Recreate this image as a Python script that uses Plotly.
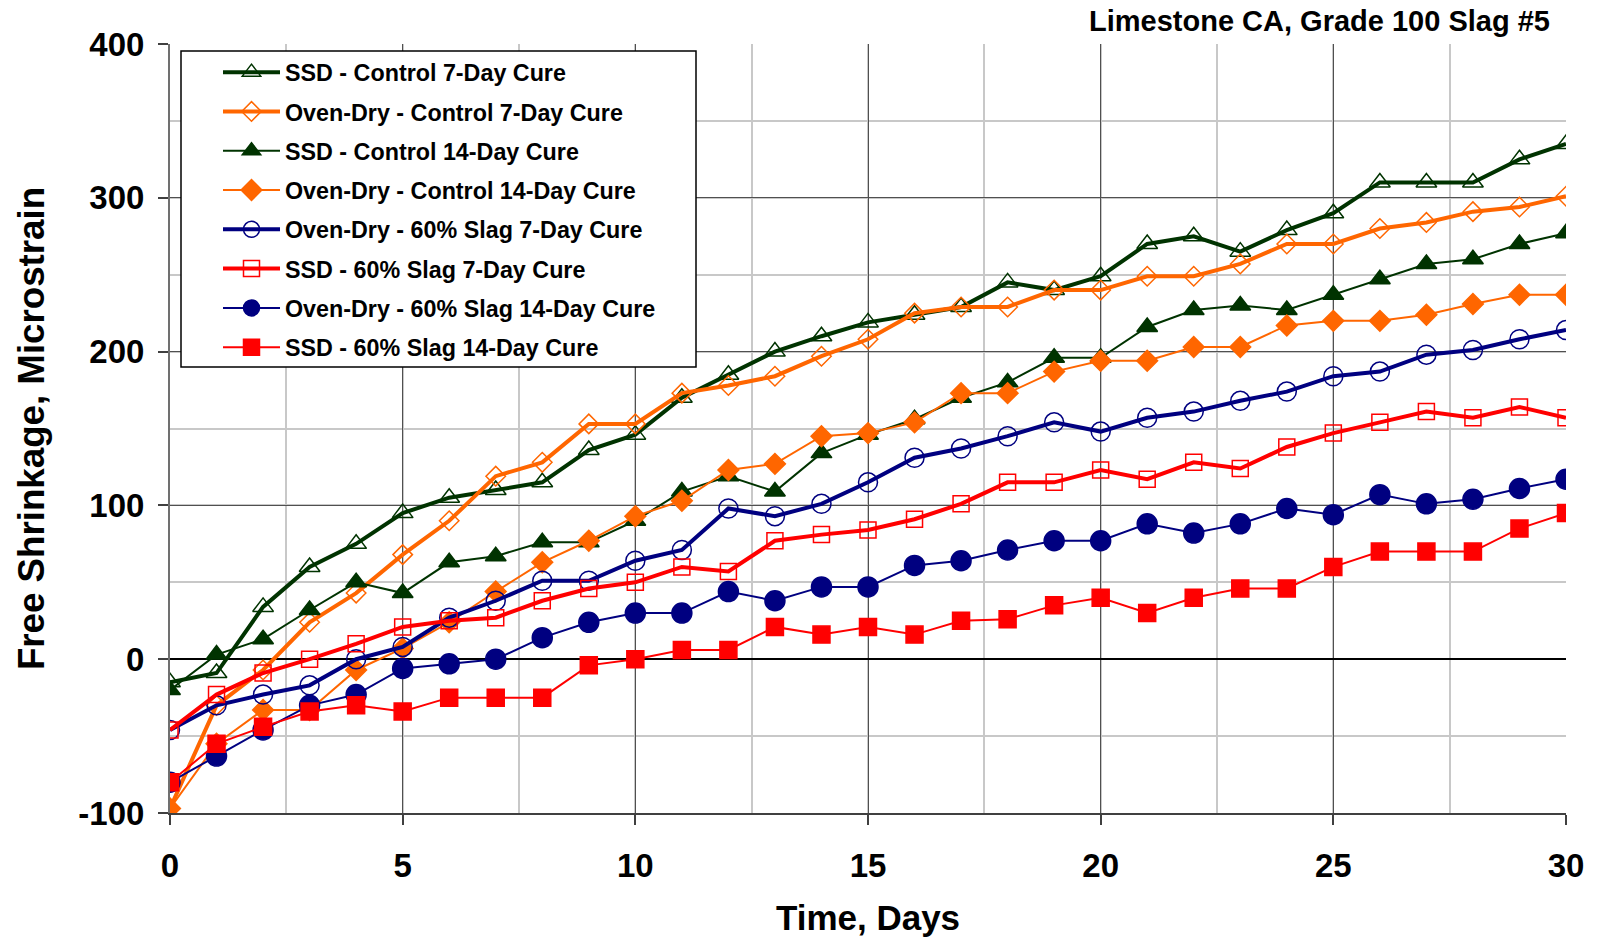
import plotly.graph_objects as go

# Time in days
days = list(range(0, 31))

# Free shrinkage, microstrain
ssd_control_7 = [-15, -9, 34, 60, 75, 95, 105, 110, 115, 136, 146, 170, 185, 200, 210, 219,
                 224, 229, 245, 240, 249, 270, 275, 265, 279, 290, 310, 310, 310, 325, 335]
od_control_7 = [-97, -30, -7, 24, 43, 68, 90, 119, 128, 153, 153, 173, 178, 184, 197, 208,
                225, 229, 229, 240, 240, 249, 249, 257, 270, 270, 280, 284, 291, 294, 301]
ssd_control_14 = [-20, 3, 13, 32, 50, 43, 63, 67, 76, 76, 90, 109, 119, 109, 134, 146,
                  156, 170, 180, 196, 196, 216, 227, 230, 227, 237, 247, 257, 260, 270, 277]
od_control_14 = [-97, -55, -33, -33, -7, 7, 24, 44, 63, 77, 93, 103, 123, 127, 145, 147,
                 154, 173, 173, 187, 194, 194, 203, 203, 217, 220, 220, 224, 231, 237, 237]
od_slag_7 = [-46, -30, -23, -17, 0, 8, 27, 38, 51, 51, 64, 71, 98, 93, 101, 115,
             131, 137, 145, 154, 148, 157, 161, 168, 174, 184, 187, 198, 201, 208, 214]
ssd_slag_7 = [-46, -23, -9, 0, 10, 21, 25, 27, 38, 46, 50, 60, 57, 77, 81, 84,
              91, 101, 115, 115, 123, 117, 128, 124, 138, 147, 154, 161, 157, 164, 157]
od_slag_14 = [-80, -63, -46, -30, -23, -6, -3, 0, 14, 24, 30, 30, 44, 38, 47, 47,
              61, 64, 71, 77, 77, 88, 82, 88, 98, 94, 107, 101, 104, 111, 117]
ssd_slag_14 = [-80, -55, -44, -34, -30, -34, -25, -25, -25, -4, 0, 6, 6, 21, 16, 21,
               16, 25, 26, 35, 40, 30, 40, 46, 46, 60, 70, 70, 70, 85, 95]

# axis ticks (plain hyphen for the negative label, like the original)
y_ticks = [-100, 0, 100, 200, 300, 400]
y_labels = ["-100", "0", "100", "200", "300", "400"]
x_ticks = [0, 5, 10, 15, 20, 25, 30]
x_labels = ["0", "5", "10", "15", "20", "25", "30"]

green = "#003300"
orange = "#FF6600"
navy = "#000080"
red = "#FF0000"

# name, values, colour, symbol, marker size, line width
series = [
    ("SSD - Control 7-Day Cure", ssd_control_7, green, "triangle-up-open", 18, 4),
    ("Oven-Dry - Control 7-Day Cure", od_control_7, orange, "diamond-open", 15, 4),
    ("SSD - Control 14-Day Cure", ssd_control_14, green, "triangle-up", 18, 2),
    ("Oven-Dry - Control 14-Day Cure", od_control_14, orange, "diamond", 16, 2),
    ("Oven-Dry - 60% Slag 7-Day Cure", od_slag_7, navy, "circle-open", 19, 4),
    ("SSD - 60% Slag 7-Day Cure", ssd_slag_7, red, "square-open", 16, 4),
    ("Oven-Dry - 60% Slag 14-Day Cure", od_slag_14, navy, "circle", 20, 2),
    ("SSD - 60% Slag 14-Day Cure", ssd_slag_14, red, "square", 17, 2),
]

fig = go.Figure()
for i, (name, vals, col, sym, msize, lw) in enumerate(series):
    fig.add_trace(go.Scatter(
        x=days, y=vals, name=name, mode="lines+markers",
        legendgroup=f"g{i}",
        line=dict(color=col, width=lw),
        marker=dict(symbol=sym, size=msize, color=col,
                    line=dict(color=col, width=1.5)),
    ))

font_family = "Arial, Liberation Sans, sans-serif"

# page body has an 8px margin, so the figure is 8px smaller each way
W, H = 1592, 931
plot_w, plot_h = 1396, 769

# legend frame drawn as a shape so the entries can sit with a left indent
fig.add_shape(type="rect", xref="paper", yref="paper",
              x0=11 / plot_w, x1=526 / plot_w, y0=446 / plot_h, y1=762 / plot_h,
              line=dict(color="black", width=1.5), fillcolor="white", layer="above")

fig.update_layout(
    width=W, height=H,
    paper_bgcolor="white", plot_bgcolor="white",
    margin=dict(l=162, r=34, t=36, b=126, autoexpand=False),
    font=dict(family=font_family, color="black"),
    title=dict(text="Limestone CA, Grade 100 Slag #5",
               font=dict(size=29, color="black", weight="bold"),
               x=1542 / W, xanchor="right", y=1 - 13 / H, yanchor="middle",
               automargin=False),
    showlegend=True,
    legend=dict(
        x=48 / plot_w, y=1 - 6.5 / plot_h, xanchor="left", yanchor="top",
        bgcolor="rgba(0,0,0,0)", borderwidth=0,
        font=dict(size=23.3, color="black", weight="bold"),
        tracegroupgap=6, itemwidth=57,
    ),
)

fig.update_xaxes(
    range=[0, 30], tickvals=x_ticks, ticktext=x_labels, automargin=False,
    showgrid=True, gridcolor="#505050", gridwidth=1,
    minor=dict(dtick=2.5, tick0=0, showgrid=True, gridcolor="#c8c8c8", gridwidth=1.5),
    showline=True, linecolor="#404040", linewidth=2,
    ticks="outside", ticklen=10, tickcolor="#404040", tickwidth=1.5,
    tickfont=dict(size=33, color="black", family=font_family, weight="bold"),
    ticklabelstandoff=12,
    zeroline=False,
    title=dict(text="Time, Days", font=dict(size=35, color="black", weight="bold"), standoff=23),
)

fig.update_yaxes(
    range=[-100, 400], tickvals=y_ticks, ticktext=y_labels, automargin=False,
    showgrid=True, gridcolor="#505050", gridwidth=1,
    minor=dict(dtick=50, tick0=0, showgrid=True, gridcolor="#c8c8c8", gridwidth=1.5),
    showline=True, linecolor="#707070", linewidth=2,
    ticks="outside", ticklen=10, tickcolor="#404040", tickwidth=1.5,
    tickfont=dict(size=33, color="black", family=font_family, weight="bold"),
    ticklabelstandoff=7,
    zeroline=True, zerolinecolor="black", zerolinewidth=1.5,
    title=dict(text="Free Shrinkage, Microstrain",
               font=dict(size=36.7, color="black", weight="bold"), standoff=22),
)

fig.write_html("out.html")
